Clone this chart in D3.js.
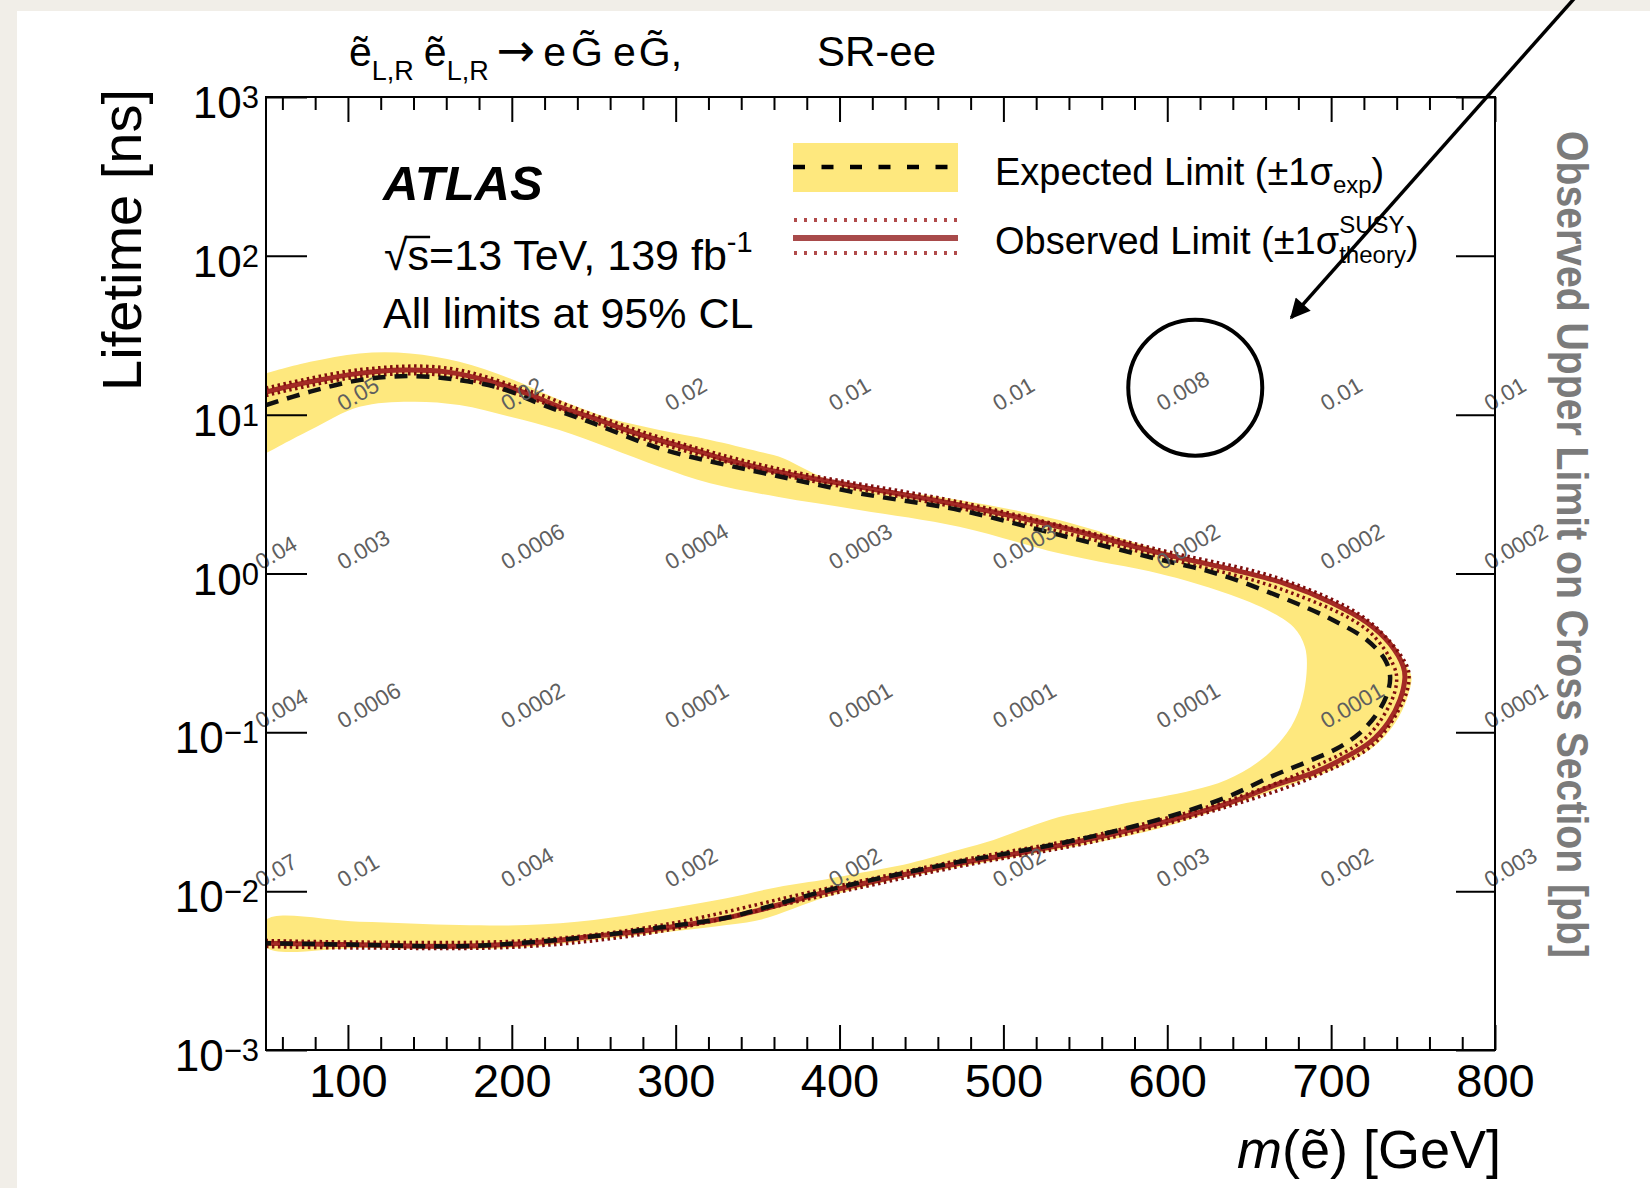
<!DOCTYPE html>
<html>
<head>
<meta charset="utf-8">
<script src="https://d3js.org/d3.v7.min.js"></script>
<style>
  body { margin: 0; background: #f1eee8; }
  text { font-family: "Liberation Sans", Arial, Helvetica, sans-serif; }
</style>
</head>
<body>
<svg width="1650" height="1188"></svg>
<script>
// contours traced along the path: upper branch left->right, round the nose, lower branch right->left
// mass in GeV, lifetime in ns
const obsMass = [50,77,107,134,160,188,209,229,250,270,290,311,331,362,412,473,534,596,636,671,
  701,722,736,744,745,742,735,724,708,690,667,636,596,555,514,473,433,392,351,331,290,250,209,168,107,50];
const obsLife = [13.9,16.1,18.2,19.1,18.6,16.1,13.6,11.2,9.5,8.0,6.9,6.0,5.2,4.37,3.52,2.70,1.97,1.34,1.08,0.87,
  0.65,0.49,0.36,0.26,0.22,0.16,0.116,0.087,0.069,0.056,0.047,0.0354,0.0269,0.0215,0.0177,0.0150,0.0123,0.0099,0.0076,0.0068,
  0.0058,0.0052,0.0047,0.0045,0.0046,0.0047];

const expMass = [50,77,107,138,168,193,219,250,290,331,362,412,473,534,596,630,671,701,722,733,
  736,733.5,727,717,703,685,664,636,596,555,514,473,433,392,351,331,290,250,209,168,107,50];
const expLife = [11.5,13.95,16.5,17.5,16.5,14.7,11.5,8.8,6.14,4.82,4.11,3.20,2.51,1.75,1.22,1.0,0.70,0.51,0.38,0.285,
  0.223,0.167,0.127,0.098,0.0785,0.065,0.053,0.039,0.0285,0.0222,0.0182,0.0153,0.0126,0.0101,0.0077,0.0068,0.0059,0.0052,0.00475,0.0045,0.0046,0.0047];

// +-1 sigma_exp band: outer edge then inner edge
const bandOuterMass = [50,77,107,138,168,199,229,260,290,321,351,366,378,392,412,473,534,596,636,671,701,722,
  737,746,749,746,739,728,712,693,669,636,596,555,514,473,433,392,351,331,290,250,209,168,107,50];
const bandOuterLife = [18.2,21.5,24.3,24.3,21.5,16.9,12.4,9.48,8.0,6.93,5.85,5.3,4.6,3.95,3.55,2.90,2.17,1.40,1.115,0.897,0.671,0.502,
  0.370,0.262,0.223,0.160,0.1145,0.0844,0.066,0.0539,0.0446,0.0339,0.025,0.0201,0.0169,0.0142,0.01175,0.00919,0.00658,0.00612,0.00545,0.00493,0.00445,0.00432,0.00439,0.00445];
const bandInnerMass = [50,107,168,209,250,290,331,362,392,412,443,473,494,514,534,555,575,596,616,636,
  657,673,681,685,684,677,661,630,596,534,473,412,362,321,290,260,229,199,168,138,107,77,50];
const bandInnerLife = [0.00658,0.00642,0.00612,0.00612,0.00658,0.0076,0.00902,0.0106,0.0119,0.0130,0.0150,0.0182,0.021,0.025,0.0293,0.0324,0.0359,0.0392,0.0433,0.0501,
  0.0669,0.099,0.144,0.236,0.345,0.46,0.589,0.787,0.993,1.34,1.97,2.51,3.04,3.70,4.70,6.14,8.0,9.71,11.5,12.07,11.2,8.0,5.71];

// observed +-1 sigma theory
const thUpMass = [50,107,160,209,250,290,362,473,596,671,722,746,747.5,744,726,692,636,555,473,392,290,209,107,50];
const thUpLife = [14.7,19.2,19.7,14.3,9.95,7.23,4.58,2.82,1.405,0.91,0.51,0.265,0.2135,0.1575,0.0844,0.0539,0.0339,0.0205,0.0143,0.00946,0.00557,0.00448,0.00439,0.00448];
const thDownMass = [50,107,160,209,250,290,362,473,596,671,722,738,740,736.5,721,688,636,555,473,392,290,209,107,50];
const thDownLife = [13.2,17.3,17.6,12.9,9.0,6.58,4.23,2.58,1.27,0.787,0.441,0.265,0.2135,0.155,0.092,0.0596,0.0369,0.0224,0.0156,0.0104,0.00608,0.00489,0.00478,0.00489];

// observed upper limit on cross section [pb] printed on the grid
const gridMass = [50,100,200,300,400,500,600,700,800];
const gridLife = [10,1,0.1,0.01];
const gridRows = [
  ["", "0.05","0.02","0.02","0.01","0.01","0.008","0.01","0.01"],
  ["0.04","0.003","0.0006","0.0004","0.0003","0.0003","0.0002","0.0002","0.0002"],
  ["0.004","0.0006","0.0002","0.0001","0.0001","0.0001","0.0001","0.0001","0.0001"],
  ["0.07","0.01","0.004","0.002","0.002","0.002","0.003","0.002","0.003"]
];

const xMajor = [100,200,300,400,500,600,700,800];
const xMinor = [60,80,120,140,160,180,220,240,260,280,320,340,360,380,420,440,460,480,520,540,560,580,620,640,660,680,720,740,760,780];
const yExp = [-3,-2,-1,0,1,2,3];

const svg = d3.select('svg');
const x = d3.scaleLinear().domain([50, 800]).range([266, 1495]);
const y = d3.scaleLog().domain([1e-3, 1e3]).range([1050, 97]);
const zip = (ms, ls) => ms.map((m, i) => [m, ls[i]]);
const line = d3.line().x(d => x(d[0])).y(d => y(d[1])).curve(d3.curveCatmullRom.alpha(0.5));

// page panel
svg.append('rect').attr('x', 17).attr('y', 11).attr('width', 1633).attr('height', 1177).attr('fill', '#fff');

svg.append('defs').append('clipPath').attr('id', 'plot')
  .append('rect').attr('x', 266).attr('y', 97).attr('width', 1229).attr('height', 953);
svg.select('defs').append('marker').attr('id', 'head')
  .attr('viewBox', '0 0 10 10').attr('refX', 9).attr('refY', 5)
  .attr('markerUnits', 'userSpaceOnUse').attr('markerWidth', 26).attr('markerHeight', 20)
  .attr('orient', 'auto')
  .append('path').attr('d', 'M0,0L10,5L0,10z').attr('fill', '#000');

const plot = svg.append('g').attr('clip-path', 'url(#plot)');

// band
const bandPts = zip(bandOuterMass, bandOuterLife).concat(zip(bandInnerMass, bandInnerLife));
plot.append('path').attr('d', line(bandPts) + 'Z').attr('fill', '#fee87e');

// grid numbers
const lbl = svg.append('g').attr('fill', '#5f5f5f').attr('font-size', 22.5);
gridRows.forEach((row, r) => row.forEach((t, c) => {
  if (!t) return;
  lbl.append('text')
    .attr('transform', `translate(${x(gridMass[c]) - 5},${y(gridLife[r]) - 3}) rotate(-30)`)
    .text(t);
}));

// observed, theory variations, expected
plot.append('path').attr('d', line(zip(obsMass, obsLife)))
  .attr('fill', 'none').attr('stroke', '#a32a25').attr('stroke-width', 5);
[[thUpMass, thUpLife], [thDownMass, thDownLife]].forEach(([m, l]) => {
  plot.append('path').attr('d', line(zip(m, l)))
    .attr('fill', 'none').attr('stroke', '#7e0d0d').attr('stroke-width', 3.5)
    .attr('stroke-dasharray', '2.5,3.5');
});
plot.append('path').attr('d', line(zip(expMass, expLife)))
  .attr('fill', 'none').attr('stroke', '#111').attr('stroke-width', 4.5)
  .attr('stroke-dasharray', '13,9');

// frame and axes
svg.append('rect').attr('x', 266).attr('y', 97).attr('width', 1229).attr('height', 953)
  .attr('fill', 'none').attr('stroke', '#000').attr('stroke-width', 2);

function styleAxis(g) {
  g.select('.domain').remove();
  g.selectAll('.tick line').attr('stroke', '#000').attr('stroke-width', 2);
}
svg.append('g').attr('transform', 'translate(0,1050)')
  .call(d3.axisBottom(x).tickValues(xMajor).tickSize(-25).tickSizeOuter(0).tickPadding(14).tickFormat(d3.format('d')))
  .call(styleAxis)
  .call(g => g.selectAll('text').attr('font-size', 47).attr('fill', '#000')
    .attr('font-family', '"Liberation Sans", Arial, sans-serif'));
svg.append('g').attr('transform', 'translate(0,1050)')
  .call(d3.axisBottom(x).tickValues(xMinor).tickSize(-13).tickSizeOuter(0).tickFormat(''))
  .call(styleAxis);
svg.append('g').attr('transform', 'translate(0,97)')
  .call(d3.axisTop(x).tickValues(xMajor).tickSize(-25).tickSizeOuter(0).tickFormat(''))
  .call(styleAxis);
svg.append('g').attr('transform', 'translate(0,97)')
  .call(d3.axisTop(x).tickValues(xMinor).tickSize(-13).tickSizeOuter(0).tickFormat(''))
  .call(styleAxis);
const decades = yExp.map(e => Math.pow(10, e));
svg.append('g').attr('transform', 'translate(266,0)')
  .call(d3.axisLeft(y).tickValues(decades).tickSize(-41).tickSizeOuter(0).tickFormat(''))
  .call(styleAxis);
svg.append('g').attr('transform', 'translate(1495,0)')
  .call(d3.axisRight(y).tickValues(decades).tickSize(-39).tickSizeOuter(0).tickFormat(''))
  .call(styleAxis);

// y tick labels 10^n
yExp.forEach(e => {
  const t = svg.append('text').attr('x', 259).attr('y', y(Math.pow(10, e)) + 21)
    .attr('text-anchor', 'end').attr('font-size', 44);
  t.append('tspan').text('10');
  t.append('tspan').attr('font-size', 31).attr('dy', -10).text(e < 0 ? '\u2212' + (-e) : String(e));
});

// axis titles
const xt = svg.append('text').attr('x', 1501).attr('y', 1168).attr('text-anchor', 'end').attr('font-size', 54);
xt.append('tspan').attr('font-style', 'italic').text('m');
xt.append('tspan').text('(\u1EBD) [GeV]');

svg.append('text').attr('transform', 'translate(141,89) rotate(-90)')
  .attr('text-anchor', 'end').attr('font-size', 56).text('Lifetime [ns]');

svg.append('text').attr('transform', 'translate(1557,131) rotate(90)')
  .attr('font-size', 45).attr('font-weight', 'bold').attr('fill', '#7b7b7b')
  .attr('textLength', 827).attr('lengthAdjust', 'spacingAndGlyphs')
  .text('Observed Upper Limit on Cross Section [pb]');

// process title
const tt = svg.append('text').attr('x', 349).attr('y', 66).attr('font-size', 41);
tt.append('tspan').text('\u1EBD');
tt.append('tspan').attr('font-size', 27).attr('dy', 14).text('L,R');
tt.append('tspan').attr('dy', -14).attr('dx', 10).text('\u1EBD');
tt.append('tspan').attr('font-size', 27).attr('dy', 14).text('L,R');
tt.append('tspan').attr('dy', -14).attr('dx', 8).attr('font-family', '"DejaVu Sans", sans-serif')
  .attr('font-size', 46).text('\u2192');
tt.append('tspan').attr('dx', 8).text('e');
tt.append('tspan').attr('dx', 5).text('G\u0303');
tt.append('tspan').attr('dx', 10).text('e');
tt.append('tspan').attr('dx', 3).text('G\u0303,');
svg.append('text').attr('x', 817).attr('y', 66).attr('font-size', 42).text('SR-ee');

// ATLAS block
svg.append('text').attr('x', 383).attr('y', 200).attr('font-size', 49)
  .attr('font-weight', 'bold').attr('font-style', 'italic').text('ATLAS');
const lumi = svg.append('text').attr('x', 384).attr('y', 270).attr('font-size', 43);
lumi.append('tspan').text('\u221As=13 TeV, 139 fb');
lumi.append('tspan').attr('font-size', 29).attr('dy', -18).text('-1');
{
  const n = lumi.node();
  const w0 = n.getSubStringLength(0, 1), w1 = n.getSubStringLength(1, 1);
  svg.append('line').attr('x1', 384 + w0 - 2).attr('x2', 384 + w0 + w1 + 1)
    .attr('y1', 270 - 33).attr('y2', 270 - 33).attr('stroke', '#000').attr('stroke-width', 2.5);
}
svg.append('text').attr('x', 383).attr('y', 328).attr('font-size', 43).text('All limits at 95% CL');

// legend
const leg = svg.append('g');
leg.append('rect').attr('x', 793).attr('y', 143).attr('width', 165).attr('height', 49).attr('fill', '#fee87e');
leg.append('line').attr('x1', 793).attr('x2', 958).attr('y1', 167).attr('y2', 167)
  .attr('stroke', '#000').attr('stroke-width', 4.5).attr('stroke-dasharray', '12,16.5');
leg.append('line').attr('x1', 793).attr('x2', 958).attr('y1', 238).attr('y2', 238)
  .attr('stroke', '#a84a4a').attr('stroke-width', 6);
[220, 253].forEach(yy => leg.append('line').attr('x1', 794).attr('x2', 958).attr('y1', yy).attr('y2', yy)
  .attr('stroke', '#b04b4b').attr('stroke-width', 4).attr('stroke-dasharray', '3,7'));

const e1 = leg.append('text').attr('x', 995).attr('y', 185).attr('font-size', 38);
e1.append('tspan').text('Expected Limit (\u00B11\u03C3');
e1.append('tspan').attr('font-size', 24).attr('dy', 8).text('exp');
e1.append('tspan').attr('dy', -8).text(')');

const o1 = leg.append('text').attr('x', 995).attr('y', 254).attr('font-size', 38)
  .text('Observed Limit (\u00B11\u03C3');
const ox = 995 + o1.node().getComputedTextLength();
leg.append('text').attr('x', ox).attr('y', 233).attr('font-size', 24).text('SUSY');
const th = leg.append('text').attr('x', ox).attr('y', 263).attr('font-size', 24).text('theory');
leg.append('text').attr('x', ox + th.node().getComputedTextLength()).attr('y', 254)
  .attr('font-size', 38).text(')');

// annotation: circle round the 0.008 value and an arrow pointing at it
svg.append('ellipse').attr('cx', x(600) + 28).attr('cy', y(10) - 27).attr('rx', 67).attr('ry', 68)
  .attr('fill', 'none').attr('stroke', '#000').attr('stroke-width', 4);
svg.append('line').attr('x1', x(600) + 411).attr('y1', -6).attr('x2', x(600) + 124).attr('y2', y(10) - 97)
  .attr('stroke', '#000').attr('stroke-width', 3.5).attr('marker-end', 'url(#head)');
</script>
</body>
</html>
